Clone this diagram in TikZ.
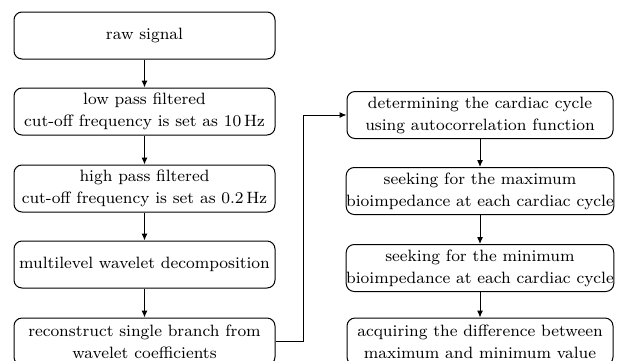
\documentclass[tikz,border=0pt]{standalone}
\usetikzlibrary{arrows.meta}

\begin{document}
\begin{tikzpicture}[
  x=0.5pt, y=-0.5pt,
  font=\fontsize{8.2}{11}\selectfont,
  box/.style={draw, line width=0.5pt, rounded corners=4pt, align=center, minimum height=23.5pt, inner xsep=0pt, inner ysep=1pt},
  lbox/.style={box, minimum width=130.5pt},
  rbox/.style={box, minimum width=133pt},
  arrow/.style={-{Latex[length=3.5pt,width=3pt]}, line width=0.5pt}
]
\useasboundingbox (0,0) rectangle (621,360);

\node[lbox] (raw) at (144.5,35.5) {raw signal};
\node[lbox] (low) at (144.5,111.5)
  {low pass filtered\\cut-off frequency is set as 10\,Hz};
\node[lbox] (high) at (144.5,188.5)
  {high pass filtered\\cut-off frequency is set as 0.2\,Hz};
\node[lbox] (wave) at (144.5,264.5) {multilevel wavelet decomposition};
\node[lbox] (recon) at (144.5,341.5)
  {reconstruct single branch from\\wavelet coefficients};

\node[rbox] (cycle) at (480,115)
  {determining the cardiac cycle\\using autocorrelation function};
\node[rbox] (maxi) at (480,191)
  {seeking for the maximum\\bioimpedance at each cardiac cycle};
\node[rbox] (mini) at (480,268)
  {seeking for the minimum\\bioimpedance at each cardiac cycle};
\node[rbox] (diff) at (480,341.5)
  {acquiring the difference between\\maximum and minimum value};

\draw[arrow] (raw) -- (low);
\draw[arrow] (low) -- (high);
\draw[arrow] (high) -- (wave);
\draw[arrow] (wave) -- (recon);
\draw[arrow] (recon.east) -- ++(28,0) |- (cycle.west);
\draw[arrow] (cycle) -- (maxi);
\draw[arrow] (maxi) -- (mini);
\draw[arrow] (mini) -- (diff);

\end{tikzpicture}
\end{document}
